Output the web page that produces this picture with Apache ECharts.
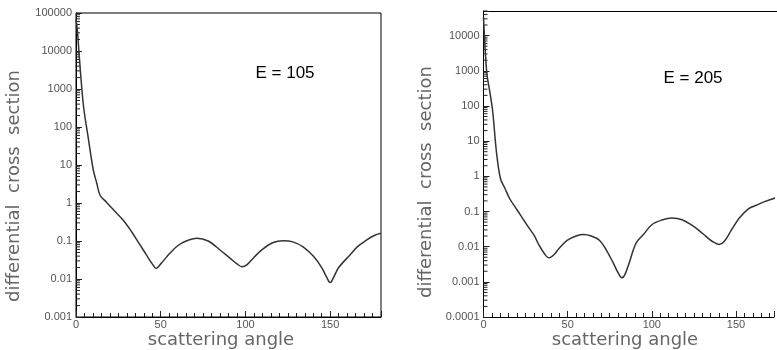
<!DOCTYPE html>
<html><head><meta charset="utf-8">
<script src="https://cdn.jsdelivr.net/npm/echarts@6/dist/echarts.min.js"></script>
<style>
html,body{margin:0;padding:0;background:#fff}
#wrap{position:relative;width:777px;height:350px}
#a{position:absolute;left:0;top:0;width:389px;height:350px}
#b{position:absolute;left:389px;top:0;width:388px;height:350px}
</style>
</head><body><div id="wrap"><div id="a"></div><div id="b"></div></div>
<script>
// E = 105 panel
const angles105 = [0, 0.8, 2, 3.4, 4.7, 7, 10.2, 12.2, 14.2, 18, 22, 27.9, 33, 37.8, 42, 45, 47.3, 50, 55.5, 60, 65, 71.3, 78, 85, 91, 95, 98, 101, 105, 110, 116, 122.4, 128, 134, 140, 145, 148, 150, 152, 155, 161.7, 166, 171.6, 176, 180];
const values105 = [70000, 35000, 6600, 1070, 280, 60, 7.4, 3.4, 1.6, 1.05, 0.67, 0.35, 0.17, 0.079, 0.04, 0.025, 0.019, 0.025, 0.048, 0.075, 0.1, 0.118, 0.1, 0.058, 0.035, 0.025, 0.021, 0.024, 0.037, 0.06, 0.09, 0.102, 0.095, 0.07, 0.04, 0.02, 0.011, 0.0081, 0.011, 0.02, 0.043, 0.07, 0.107, 0.14, 0.16];
// E = 205 panel
const angles205 = [0, 1.9, 3.5, 5.4, 7.8, 10.1, 12.5, 15.6, 20, 24, 27.4, 30.1, 33, 36, 38.9, 42, 45, 49.7, 55, 59.5, 64, 69, 73, 77, 80, 82.2, 84, 87, 89, 91, 95, 100, 106, 112, 118, 124, 128, 132, 136, 140, 143, 147, 152, 157.6, 162, 167, 172, 176, 180];
const values205 = [33000, 910, 300, 74, 4.4, 0.85, 0.48, 0.23, 0.11, 0.056, 0.032, 0.021, 0.011, 0.0065, 0.0048, 0.006, 0.009, 0.015, 0.02, 0.022, 0.02, 0.015, 0.008, 0.0035, 0.0018, 0.0013, 0.0016, 0.004, 0.008, 0.0135, 0.022, 0.042, 0.057, 0.065, 0.058, 0.04, 0.029, 0.02, 0.014, 0.0115, 0.014, 0.028, 0.065, 0.12, 0.15, 0.19, 0.23, 0.26, 0.29];

const xTickLabels = ['0', '50', '100', '150'];
const yTickLabels105 = ['0.001', '0.01', '0.1', '1', '10', '100', '1000', '10000', '100000'];
const yTickLabels205 = ['0.0001', '0.001', '0.01', '0.1', '1', '10', '100', '1000', '10000'];
const xTitle = 'scattering angle';
const yTitle = 'differential  cross  section';
const panelTitles = ['E = 105', 'E = 205'];

const LABEL_FONT = 'Liberation Sans';
const labelColor = '#555';
const tickColor = '#222';
const titleFont = '18px "DejaVu Sans"';

// minor tick positions of a log axis (2..9 x 10^n) - axis decoration only
function logMinorTicks(min, max) {
  const out = [];
  const e0 = Math.floor(Math.log10(min)), e1 = Math.ceil(Math.log10(max));
  for (let e = e0; e <= e1; e++) {
    for (let k = 2; k <= 9; k++) {
      const v = Number((k * Math.pow(10, e)).toPrecision(3));
      if (v > min && v <= max * 1.0001) out.push(v);
    }
  }
  return out;
}
function labelFor(labels) {
  return function (v) {
    for (const l of labels) {
      if (Math.abs(Math.log10(Number(l)) - Math.log10(v)) < 1e-6) return l;
    }
    return '';
  };
}

function makePanel(el, p) {
  const chart = echarts.init(el);
  const graphic = [
    { type: 'text', x: p.xTitlePos[0], y: p.xTitlePos[1], style: { text: xTitle, font: titleFont, fill: '#666', align: 'center', verticalAlign: 'middle' } },
    { type: 'text', x: p.yTitlePos[0], y: p.yTitlePos[1], rotation: Math.PI / 2, style: { text: yTitle, font: titleFont, fill: '#666', align: 'center', verticalAlign: 'middle' } },
    { type: 'text', x: p.labelPos[0], y: p.labelPos[1], style: { text: p.label, font: '17px "Liberation Sans"', fill: '#000', align: 'center', verticalAlign: 'middle' } }
  ];
  if (p.topLine) graphic.push({ type: 'line', shape: { x1: p.grid.left, y1: p.grid.top + 0.5, x2: p.grid.left + p.grid.width, y2: p.grid.top + 0.5 }, style: { stroke: '#000', lineWidth: 1 } });
  chart.setOption({
    animation: false,
    grid: [Object.assign({ borderColor: '#000', borderWidth: 1 }, p.grid)],
    xAxis: [
      { type: 'value', min: 0, max: p.xMax, interval: 50, position: 'bottom',
        axisLine: { show: true, onZero: false, lineStyle: { color: '#000', width: 1 } },
        axisTick: { show: true, inside: true, length: 6, lineStyle: { color: tickColor, width: 1 } },
        axisLabel: { show: true, formatter: v => (xTickLabels.indexOf(String(v)) >= 0 ? String(v) : ''),
          fontFamily: LABEL_FONT, fontSize: 11, color: labelColor, margin: 2 },
        splitLine: { show: false } },
      { type: 'value', min: 0, max: p.xMax, interval: 5, position: 'bottom',
        axisLine: { show: false, onZero: false },
        axisTick: { show: true, inside: true, length: 4, lineStyle: { color: tickColor, width: 1 } },
        axisLabel: { show: false }, splitLine: { show: false } }
    ],
    yAxis: [{ type: 'log', logBase: 10, min: p.yMin, max: p.yMax, interval: 1, position: 'left',
      axisLine: { show: true, onZero: false, lineStyle: { color: '#000', width: 1 } },
      axisTick: { show: true, inside: true, length: 6, lineStyle: { color: tickColor, width: 1 } },
      axisLabel: { show: true, formatter: labelFor(p.yLabels), fontFamily: LABEL_FONT, fontSize: 11, color: labelColor, margin: 4 },
      splitLine: { show: false }, minorTick: { show: false } }],
    series: [
      { type: 'custom', xAxisIndex: 0, yAxisIndex: 0, silent: true, clip: false, z: 3,
        data: logMinorTicks(p.yMin, p.yMax).map(v => [0, v]),
        renderItem: function (params, api) {
          const c = api.coord([api.value(0), api.value(1)]);
          return { type: 'line', shape: { x1: c[0], y1: c[1], x2: c[0] + 4, y2: c[1] }, style: { stroke: tickColor, lineWidth: 1 } };
        } },
      { type: 'line', xAxisIndex: 0, yAxisIndex: 0, showSymbol: false, smooth: 0.35,
        lineStyle: { color: '#333', width: 1.5 },
        data: p.angles.map((a, i) => [a, p.values[i]]) }
    ],
    graphic: graphic
  });
}

makePanel(document.getElementById('a'), {
  grid: { left: 76, top: 13, width: 305, height: 304, show: true },
  xMax: 180, yMin: 0.001, yMax: 100000, yLabels: yTickLabels105,
  angles: angles105, values: values105, label: panelTitles[0],
  xTitlePos: [221, 340], yTitlePos: [14, 186], labelPos: [285, 73]
});
// right panel: its frame runs past the page edge in the reference, so the plot is cut at the page edge
makePanel(document.getElementById('b'), {
  grid: { left: 94.5, top: 11, width: 293.5, height: 306, show: false },
  xMax: 172.6, yMin: 0.0001, yMax: 50000, yLabels: yTickLabels205,
  angles: angles205, values: values205, label: panelTitles[1],
  xTitlePos: [236, 340], yTitlePos: [37, 182], labelPos: [304, 78], topLine: true
});
</script></body></html>
